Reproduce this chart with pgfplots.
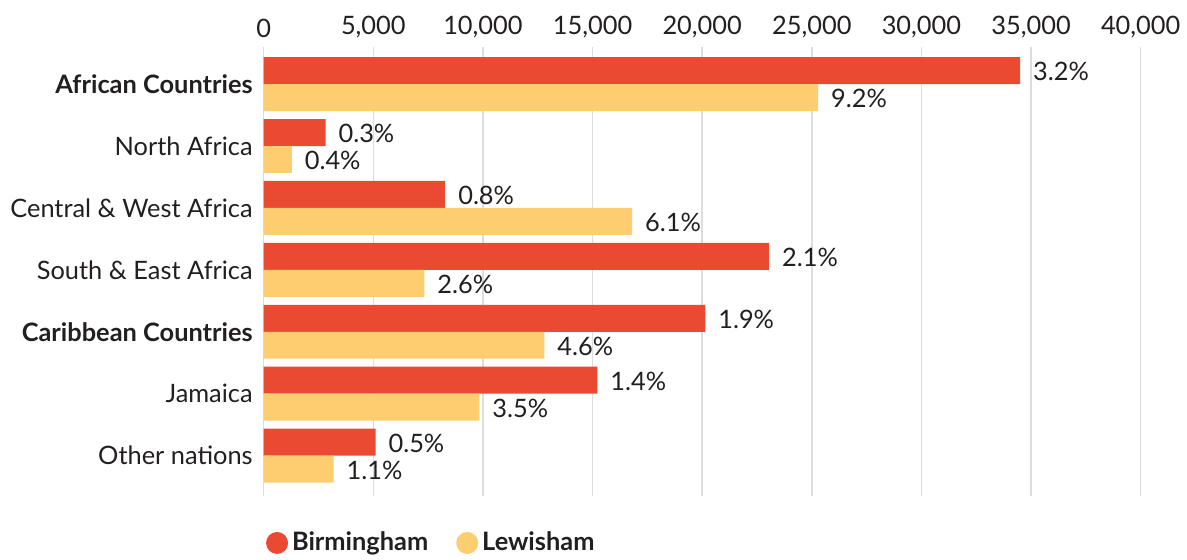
\documentclass[border=0pt]{standalone}
\usepackage{fontspec}
\setmainfont{Lato}
\usepackage{pgfplots}
\pgfplotsset{compat=1.18}
\definecolor{bham}{HTML}{EA4A31}
\definecolor{lew}{HTML}{FDCD6F}
\definecolor{txt}{HTML}{231F20}
\definecolor{gridc}{HTML}{DDDDDD}

\begin{document}
\begin{tikzpicture}
\begin{axis}[
  name=ax,
  xbar,
  scale only axis,
  width=439pt, height=225pt,
  xmin=0, xmax=40000,
  ymin=-0.66, ymax=6.6,
  bar width=13.5pt,
  axis line style={draw=none},
  xtick={0,5000,...,40000},
  scaled x ticks=false,
  xticklabel pos=top,
  major tick length=0pt,
  xmajorgrids,
  grid style={gridc, line width=0.8pt},
  ytick={0,...,6},
  yticklabels={Other nations, Jamaica, \textbf{Caribbean Countries}, South \& East Africa, Central \& West Africa, North Africa, \textbf{African Countries}},
  ticklabel style={font=\fontsize{12.7}{14}\selectfont, text=txt},
  /pgf/number format/.cd, 1000 sep={,}, assume math mode=true,
  /pgfplots/.cd,
  xticklabel style={yshift=1pt},
  yticklabel style={xshift=-2pt},
  point meta=explicit symbolic,
  nodes near coords,
  nodes near coords style={font=\fontsize{12.7}{14}\selectfont, text=txt, anchor=west, xshift=3pt, yshift=-0.5pt},
  legend style={at={(0,-0.065)}, anchor=north west, draw=none, legend columns=2,
    font=\fontsize{12.7}{14}\selectfont\bfseries, text=txt, inner sep=1pt,
    /tikz/every even column/.append style={column sep=12pt}},
  legend image code/.code={\fill[#1] (0.25em,0) circle (5.5pt);},
]
\addplot[fill=bham, draw=none, bar shift=6.75pt] coordinates {
  (34500,6) [3.2\%]
  (2820,5)  [0.3\%]
  (8280,4)  [0.8\%]
  (23050,3) [2.1\%]
  (20140,2) [1.9\%]
  (15220,1) [1.4\%]
  (5100,0)  [0.5\%]
};
\addplot[fill=lew, draw=none, bar shift=-6.75pt] coordinates {
  (25290,6) [9.2\%]
  (1280,5)  [0.4\%]
  (16800,4) [6.1\%]
  (7330,3)  [2.6\%]
  (12800,2) [4.6\%]
  (9840,1)  [3.5\%]
  (3190,0)  [1.1\%]
};
\legend{Birmingham, Lewisham}
\end{axis}
\path[use as bounding box] ([shift={(-132pt,-28.5pt)}]ax.south west) rectangle ([shift={(22.5pt,23.5pt)}]ax.north east);
\end{tikzpicture}
\end{document}
